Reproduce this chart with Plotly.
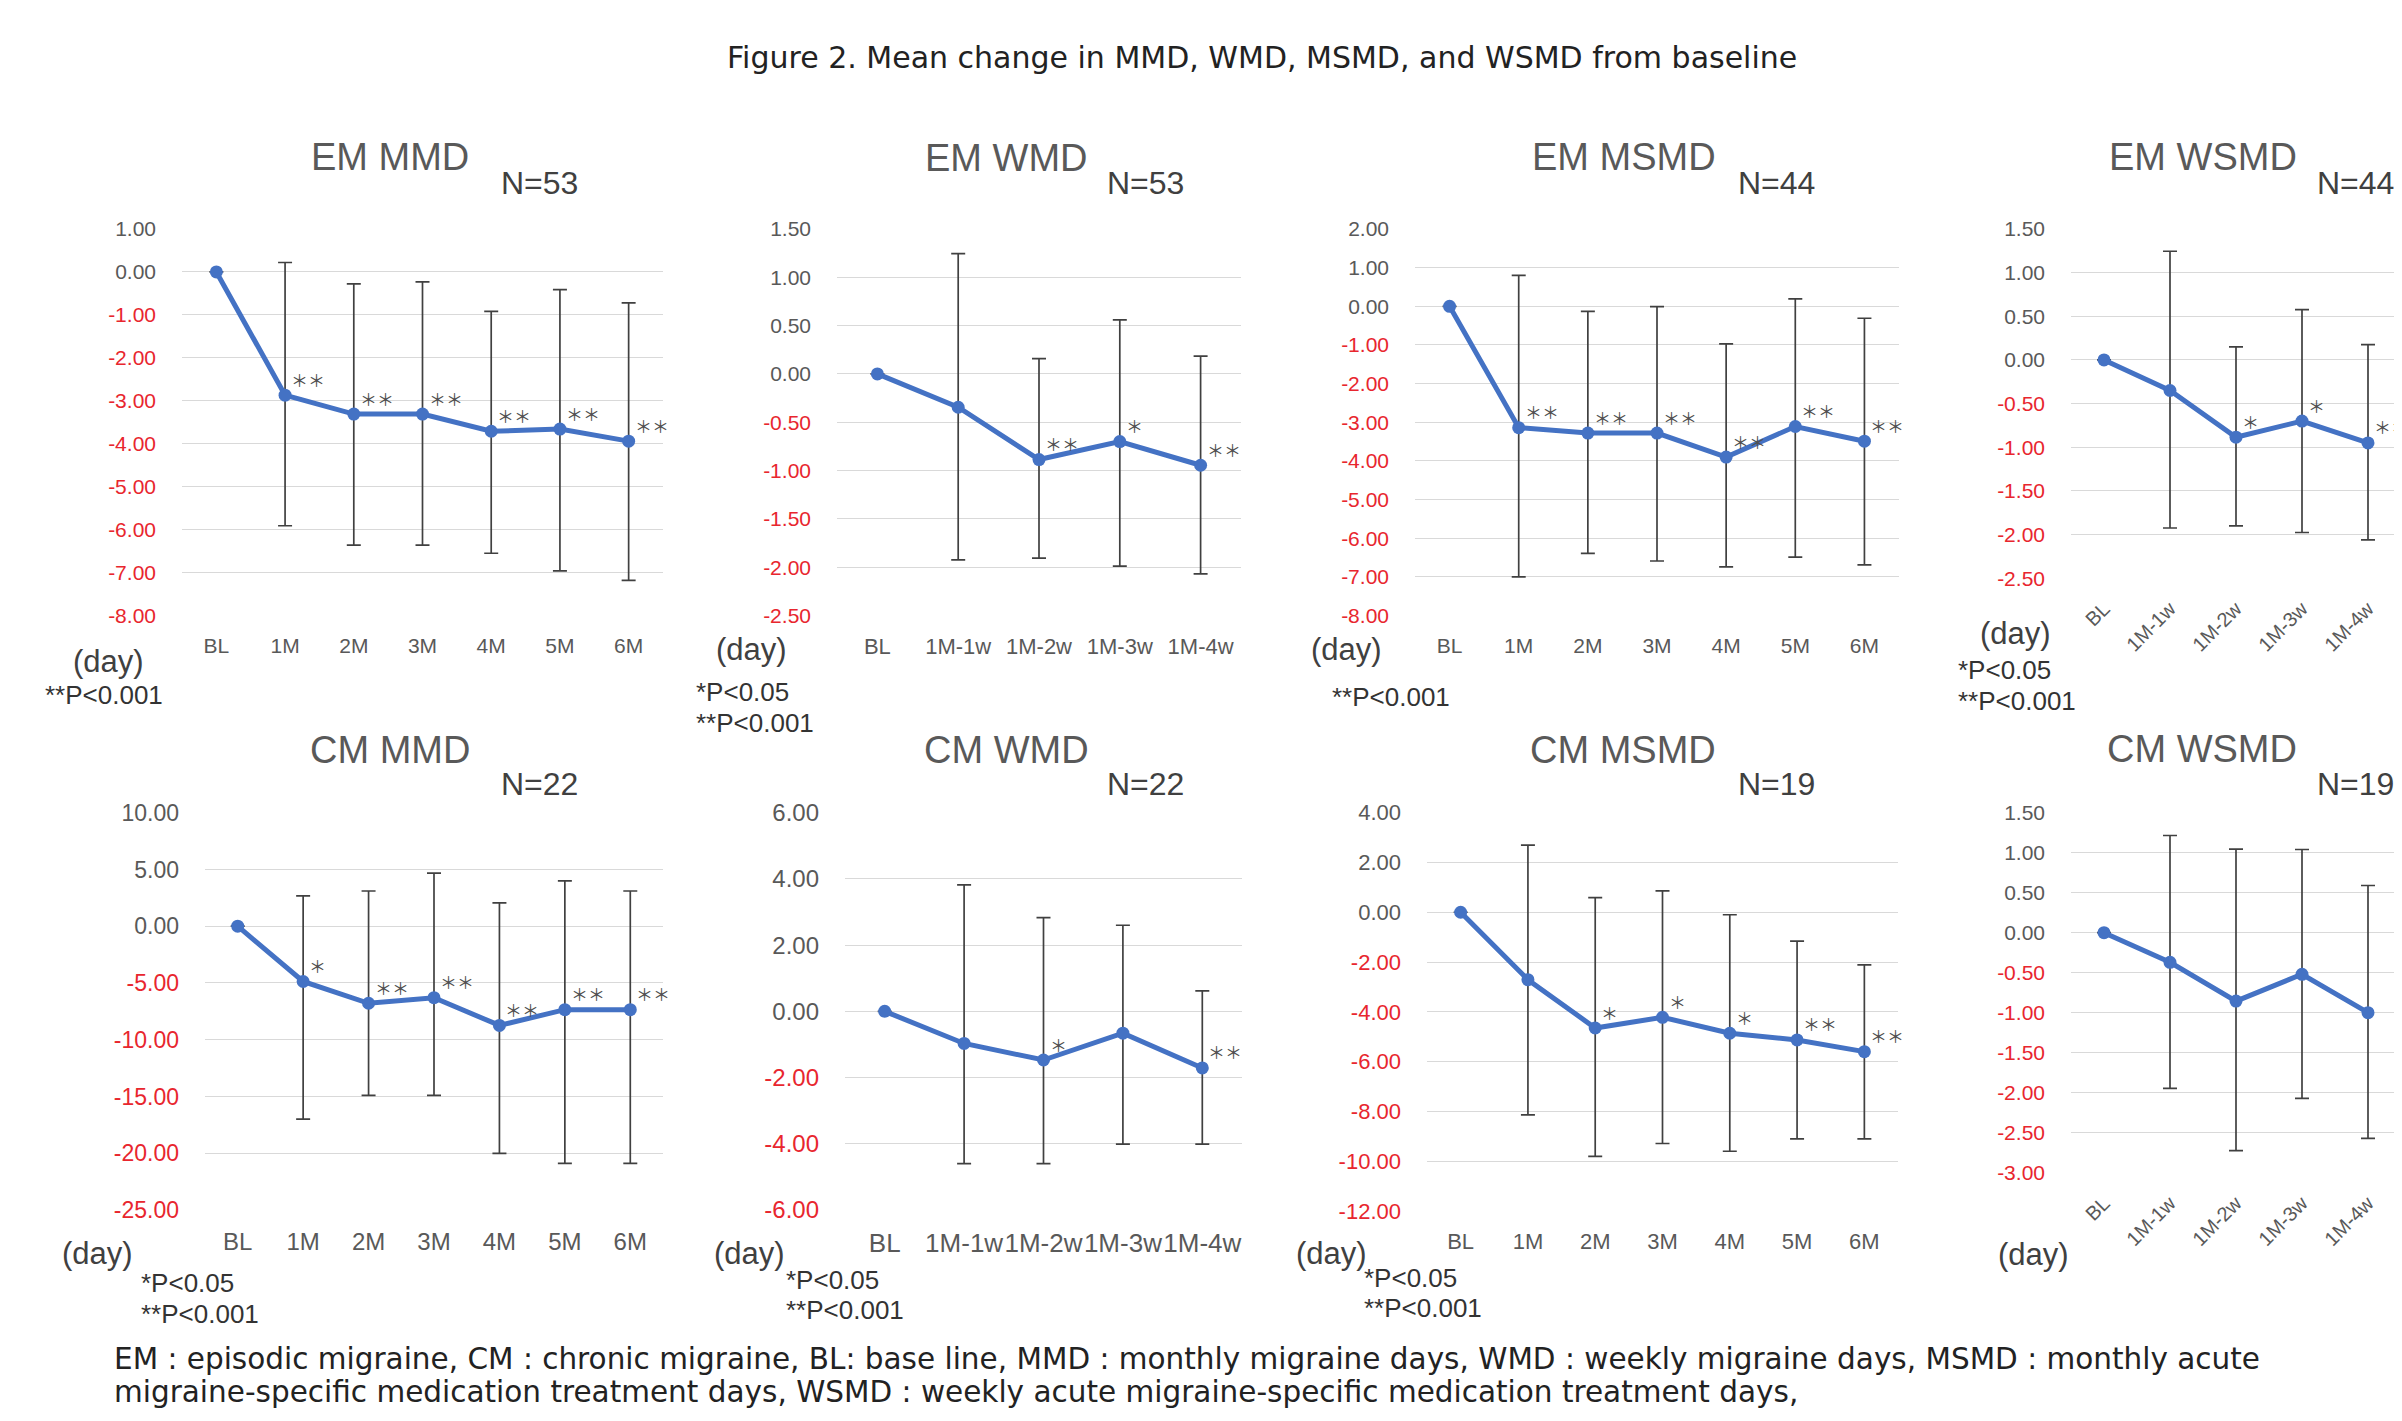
import numpy as np
import plotly.graph_objects as go

W, H = 2402, 1421
OFF = 8  # default page margin of the html body

# ---------------- data ----------------
months = ["BL", "1M", "2M", "3M", "4M", "5M", "6M"]
weeks = ["BL", "1M-1w", "1M-2w", "1M-3w", "1M-4w"]

em_mmd_mean = [0, -2.87, -3.31, -3.31, -3.71, -3.66, -3.94]
em_mmd_up = [None, 3.09, 3.03, 3.08, 2.79, 3.25, 3.22]
em_mmd_dn = [None, 3.04, 3.05, 3.05, 2.84, 3.30, 3.24]
em_mmd_sig = ["", "＊＊", "＊＊", "＊＊", "＊＊", "＊＊", "＊＊"]

em_wmd_mean = [0, -0.345, -0.886, -0.70, -0.945]
em_wmd_up = [None, 1.59, 1.045, 1.26, 1.13]
em_wmd_dn = [None, 1.58, 1.02, 1.29, 1.125]
em_wmd_sig = ["", "", "＊＊", "＊", "＊＊"]

em_msmd_mean = [0, -3.14, -3.28, -3.28, -3.90, -3.11, -3.49]
em_msmd_up = [None, 3.94, 3.15, 3.27, 2.93, 3.30, 3.18]
em_msmd_dn = [None, 3.86, 3.11, 3.31, 2.84, 3.38, 3.20]
em_msmd_sig = ["", "＊＊", "＊＊", "＊＊", "＊＊", "＊＊", "＊＊"]

em_wsmd_mean = [0, -0.35, -0.885, -0.70, -0.95]
em_wsmd_up = [None, 1.595, 1.035, 1.277, 1.125]
em_wsmd_dn = [None, 1.575, 1.015, 1.276, 1.11]
em_wsmd_sig = ["", "", "＊", "＊", "＊＊"]

cm_mmd_mean = [0, -4.87, -6.79, -6.30, -8.74, -7.35, -7.35]
cm_mmd_up = [None, 7.55, 9.89, 10.97, 10.79, 11.35, 10.45]
cm_mmd_dn = [None, 12.12, 8.11, 8.60, 11.28, 13.54, 13.54]
cm_mmd_sig = ["", "＊", "＊＊", "＊＊", "＊＊", "＊＊", "＊＊"]

cm_wmd_mean = [0, -0.97, -1.47, -0.66, -1.71]
cm_wmd_up = [None, 4.79, 4.30, 3.26, 2.33]
cm_wmd_dn = [None, 3.63, 3.13, 3.35, 2.30]
cm_wmd_sig = ["", "", "＊", "", "＊＊"]

cm_msmd_mean = [0, -2.71, -4.65, -4.22, -4.86, -5.13, -5.60]
cm_msmd_up = [None, 5.41, 5.24, 5.08, 4.76, 3.97, 3.49]
cm_msmd_dn = [None, 5.43, 5.16, 5.07, 4.74, 3.97, 3.50]
cm_msmd_sig = ["", "", "＊", "＊", "＊", "＊＊", "＊＊"]

cm_wsmd_mean = [0, -0.37, -0.855, -0.52, -1.0]
cm_wsmd_up = [None, 1.585, 1.90, 1.56, 1.59]
cm_wsmd_dn = [None, 1.575, 1.87, 1.55, 1.57]
cm_wsmd_sig = ["", "", "", "", ""]

fig_title = "Figure 2. Mean change in MMD, WMD, MSMD, and WSMD from baseline"
foot1 = ("EM : episodic migraine, CM : chronic migraine, BL: base line, MMD : monthly migraine days, "
         "WMD : weekly migraine days, MSMD : monthly acute")
foot2 = "migraine-specific medication treatment days, WSMD : weekly acute migraine-specific medication treatment days,"

# ---------------- styles ----------------
BLUE = "#4472C4"
RED = "#E8262E"
GRAY = "#595959"
DARK = "#404040"
GRID = "#D9D9D9"
FONT = "Liberation Sans, Arial, sans-serif"
WIDE = "DejaVu Sans, sans-serif"
CJK = "Noto Sans CJK JP, sans-serif"

panels = [
    dict(title="EM MMD", n="N=53", cats=months, mean=em_mmd_mean, up=em_mmd_up, dn=em_mmd_dn, sig=em_mmd_sig,
         yr=(-8, 1), dt=1, box=(182, 219, 663, 613), yfs=21, xfs=21, xang=0,
         tpos=(390, 146), npos=(539, 172), day=(108, 660),
         notes=[("**P<0.001", 104, 694, "center")]),
    dict(title="EM WMD", n="N=53", cats=weeks, mean=em_wmd_mean, up=em_wmd_up, dn=em_wmd_dn, sig=em_wmd_sig,
         yr=(-2.5, 1.5), dt=0.5, box=(837, 219, 1241, 613), yfs=21, xfs=22, xang=0,
         tpos=(1006, 147), npos=(1145, 172), day=(751, 648),
         notes=[("*P<0.05", 694, 691, "left"), ("**P<0.001", 694, 723, "left")]),
    dict(title="EM MSMD", n="N=44", cats=months, mean=em_msmd_mean, up=em_msmd_up, dn=em_msmd_dn, sig=em_msmd_sig,
         yr=(-8, 2), dt=1, box=(1415, 219, 1899, 613), yfs=21, xfs=21, xang=0,
         tpos=(1624, 146), npos=(1776, 172), day=(1347, 648),
         notes=[("**P<0.001", 1391, 696, "center")]),
    dict(title="EM WSMD", n="N=44", cats=weeks, mean=em_wsmd_mean, up=em_wsmd_up, dn=em_wsmd_dn, sig=em_wsmd_sig,
         yr=(-2.5, 1.5), dt=0.5, box=(2071, 219, 2401, 575), yfs=21, xfs=20, xang=-45,
         tpos=(2203, 146), npos=(2355, 172), day=(2015, 631),
         notes=[("*P<0.05", 1956, 669, "left"), ("**P<0.001", 1956, 700, "left")]),
    dict(title="CM MMD", n="N=22", cats=months, mean=cm_mmd_mean, up=cm_mmd_up, dn=cm_mmd_dn, sig=cm_mmd_sig,
         yr=(-25, 10), dt=5, box=(205, 814, 663, 1219), yfs=23, xfs=24, xang=0,
         tpos=(390, 750), npos=(539, 785), day=(97, 1263),
         notes=[("*P<0.05", 139, 1293, "left"), ("**P<0.001", 139, 1325, "left")]),
    dict(title="CM WMD", n="N=22", cats=weeks, mean=cm_wmd_mean, up=cm_wmd_up, dn=cm_wmd_dn, sig=cm_wmd_sig,
         yr=(-6, 6), dt=2, box=(845, 814, 1242, 1219), yfs=24, xfs=26, xang=0,
         tpos=(1006, 750), npos=(1145, 785), day=(749, 1263),
         notes=[("*P<0.05", 784, 1290, "left"), ("**P<0.001", 784, 1321, "left")]),
    dict(title="CM MSMD", n="N=19", cats=months, mean=cm_msmd_mean, up=cm_msmd_up, dn=cm_msmd_dn, sig=cm_msmd_sig,
         yr=(-12, 4), dt=2, box=(1427, 814, 1898, 1220), yfs=22, xfs=22, xang=0,
         tpos=(1623, 750), npos=(1776, 785), day=(1331, 1263),
         notes=[("*P<0.05", 1362, 1288, "left"), ("**P<0.001", 1362, 1319, "left")]),
    dict(title="CM WSMD", n="N=19", cats=weeks, mean=cm_wsmd_mean, up=cm_wsmd_up, dn=cm_wsmd_dn, sig=cm_wsmd_sig,
         yr=(-3, 1.5), dt=0.5, box=(2071, 814, 2401, 1181), yfs=21, xfs=20, xang=-45,
         tpos=(2202, 749), npos=(2355, 785), day=(2033, 1264),
         notes=[]),
]


def px(x):
    return (x - OFF) / W


def py(y):
    return 1 - (y - OFF) / H


fig = go.Figure()
annotations = []
layout_axes = {}

for i, p in enumerate(panels, start=1):
    xa, ya = f"x{i}", f"y{i}"
    fig.add_trace(go.Scatter(
        x=p["cats"], y=p["mean"], mode="lines+markers",
        line=dict(color=BLUE, width=5),
        marker=dict(size=13, color=BLUE),
        error_y=dict(type="data", symmetric=False, array=p["up"], arrayminus=p["dn"],
                     color=DARK, thickness=1.7, width=7),
        xaxis=xa, yaxis=ya, showlegend=False, cliponaxis=False, hoverinfo="x+y",
    ))
    x0, y0, x1, y1 = p["box"]
    lo, hi = p["yr"]
    tv = np.round(np.arange(hi, lo - p["dt"] / 2, -p["dt"]), 6)
    tt = []
    for v in tv:
        v = 0.0 if abs(v) < 1e-9 else float(v)
        s = f"{v:.2f}"
        tt.append(f"<span style='color:{RED}'>{s}</span>" if v < 0 else s)
    n = len(p["cats"])
    rotated = p["xang"] != 0
    layout_axes[f"xaxis{i}"] = dict(
        domain=[px(x0), px(x1)], anchor=ya, type="category", range=[-0.5, n - 0.5],
        showgrid=False, zeroline=False, showline=False, ticks="",
        tickfont=dict(family=FONT, size=p["xfs"], color=GRAY), tickangle=p["xang"],
        ticklabelstandoff=14 if rotated else 15, fixedrange=True,
    )
    layout_axes[f"yaxis{i}"] = dict(
        domain=[py(y1), py(y0)], anchor=xa, range=[lo, hi],
        tickvals=list(tv), ticktext=tt, showgrid=True, gridcolor=GRID, gridwidth=1.3,
        zeroline=False, showline=False, ticks="",
        tickfont=dict(family=FONT, size=p["yfs"], color=GRAY), ticklabelstandoff=25,
        fixedrange=True,
    )
    # significance marks
    for c, m, s in zip(p["cats"], p["mean"], p["sig"]):
        if s:
            annotations.append(dict(
                x=c, y=m, xref=xa, yref=ya, text=s, showarrow=False,
                xanchor="left", yanchor="middle", xshift=4, yshift=16,
                font=dict(family=CJK, size=17, color="#505050")))
    # titles
    annotations.append(dict(x=px(p["tpos"][0]), y=py(p["tpos"][1]), xref="paper", yref="paper",
                            text=p["title"], showarrow=False, xanchor="center", yanchor="middle",
                            font=dict(family=FONT, size=38, color=GRAY)))
    annotations.append(dict(x=px(p["npos"][0]), y=py(p["npos"][1]), xref="paper", yref="paper",
                            text=p["n"], showarrow=False, xanchor="center", yanchor="middle",
                            font=dict(family=FONT, size=32, color=DARK)))
    annotations.append(dict(x=px(p["day"][0]), y=py(p["day"][1]), xref="paper", yref="paper",
                            text="(day)", showarrow=False, xanchor="center", yanchor="middle",
                            font=dict(family=FONT, size=31, color=DARK)))
    for txt, nx, ny, anc in p["notes"]:
        annotations.append(dict(x=px(nx), y=py(ny), xref="paper", yref="paper",
                                text=txt, showarrow=False, xanchor=anc, yanchor="middle",
                                font=dict(family=FONT, size=26, color="#333333")))

annotations.append(dict(x=px(1262), y=py(44), xref="paper", yref="paper", text=fig_title,
                        showarrow=False, xanchor="center", yanchor="middle",
                        font=dict(family=WIDE, size=30, color="#222222")))
annotations.append(dict(x=px(112), y=py(1371), xref="paper", yref="paper", text=foot1,
                        showarrow=False, xanchor="left", yanchor="middle",
                        font=dict(family=WIDE, size=29.5, color="#222222")))
annotations.append(dict(x=px(112), y=py(1405), xref="paper", yref="paper", text=foot2,
                        showarrow=False, xanchor="left", yanchor="middle",
                        font=dict(family=WIDE, size=29.5, color="#222222")))

fig.update_layout(
    width=W, height=H, margin=dict(l=0, r=0, t=0, b=0),
    paper_bgcolor="white", plot_bgcolor="white",
    annotations=annotations, **layout_axes,
)

fig.write_html("out.html")
